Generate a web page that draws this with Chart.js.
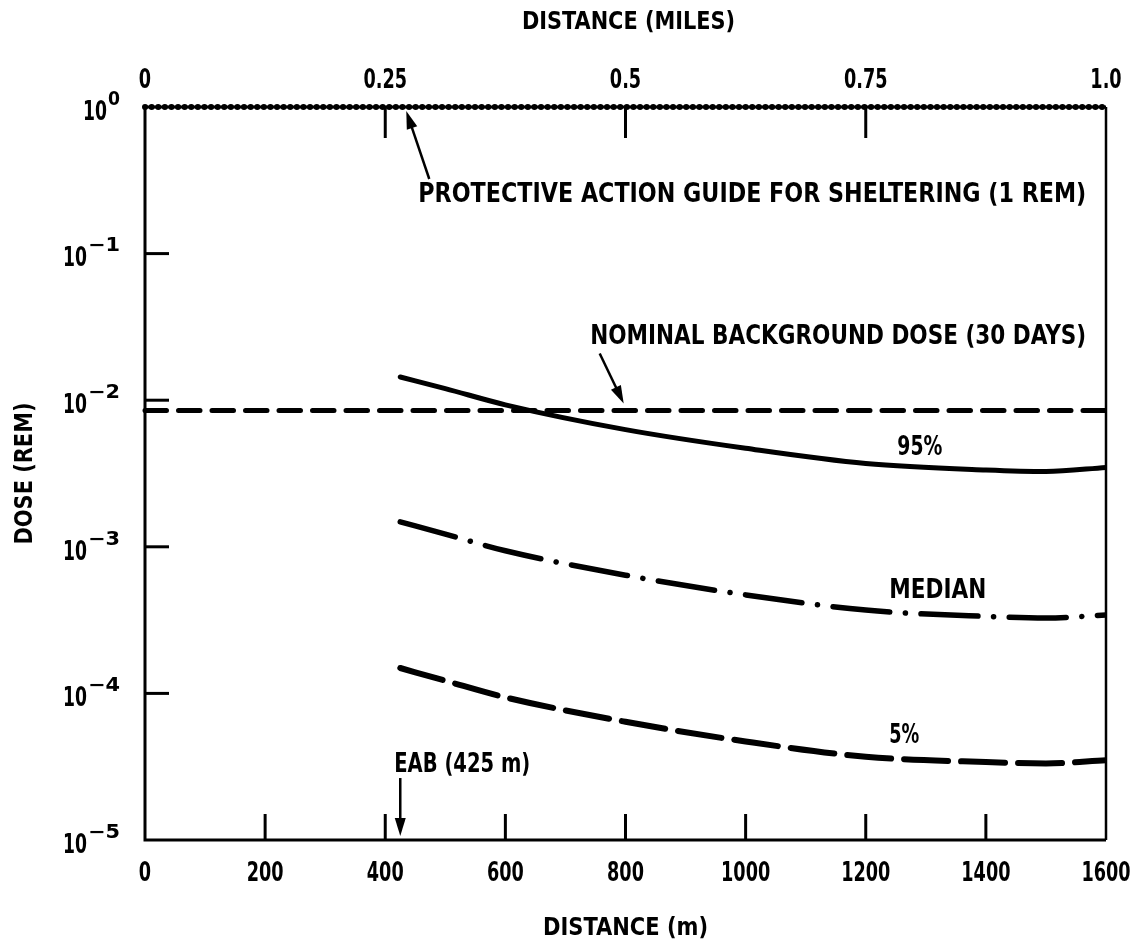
<!DOCTYPE html>
<html>
<head>
<meta charset="utf-8">
<script src="https://cdn.jsdelivr.net/npm/chart.js@4.4.1/dist/chart.umd.min.js"></script>
<style>
  html, body { margin: 0; padding: 0; background: #fff; }
  #wrap { width: 1136px; height: 941px; position: relative; }
</style>
</head>
<body>
<div id="wrap"><canvas id="doseChart"></canvas></div>
<script>
// distance from release point (m) where the dose curves are read
const distanceM = [425, 500, 600, 800, 1000, 1200, 1400, 1500, 1600];
// dose (rem) for each percentile
const dose95 = [0.0144, 0.0120, 0.0093, 0.0063, 0.0047, 0.0037, 0.00334, 0.00326, 0.00348];
const doseMedian = [0.00148, 0.00122, 0.00094, 0.00064, 0.00047, 0.00037, 0.000335, 0.000327, 0.000343];
const dose5 = [0.000149, 0.000122, 0.000094, 0.000064, 0.000047, 0.000037, 0.000034, 0.0000333, 0.000035];
// reference levels
const backgroundDose = 0.0085;
const shelterGuide = 1;
const eabDistance = 425;
// axes
const meterTicks = [0, 200, 400, 600, 800, 1000, 1200, 1400, 1600];
const mileTicks = [0, 0.25, 0.5, 0.75, 1];
const mileLabels = ['0', '0.25', '0.5', '0.75', '1.0'];
const doseExponents = [0, -1, -2, -3, -4, -5];

const FONT = '"Liberation Sans Narrow", "DejaVu Sans Condensed", "Liberation Sans", sans-serif';
const xMin = meterTicks[0];
const xMax = meterTicks[meterTicks.length - 1];

// draws bold text with its visual centre at y, squeezed to a width
function drawText(ctx, text, x, y, size, width, align, digitW) {
    ctx.font = `bold ${size}px ${FONT}`;
    const natural = ctx.measureText(text).width;
    let sx = 1;
    if (width) sx = width / natural;
    else if (digitW) sx = digitW / ctx.measureText('0').width;
    ctx.save();
    ctx.translate(x, y + size * 0.36);
    ctx.scale(sx, 1);
    ctx.textAlign = align;
    ctx.textBaseline = 'alphabetic';
    ctx.fillText(text, 0, 0);
    ctx.restore();
}

function arrow(ctx, x1, y1, x2, y2) {
    const ang = Math.atan2(y2 - y1, x2 - x1);
    const len = 18, half = 5.5;
    ctx.beginPath();
    ctx.moveTo(x1, y1);
    ctx.lineTo(x2 - Math.cos(ang) * len * 0.8, y2 - Math.sin(ang) * len * 0.8);
    ctx.stroke();
    ctx.beginPath();
    ctx.moveTo(x2, y2);
    ctx.lineTo(x2 - Math.cos(ang) * len - Math.sin(ang) * half, y2 - Math.sin(ang) * len + Math.cos(ang) * half);
    ctx.lineTo(x2 - Math.cos(ang) * len + Math.sin(ang) * half, y2 - Math.sin(ang) * len - Math.cos(ang) * half);
    ctx.closePath();
    ctx.fill();
}

const framePlugin = {
    id: 'frame',
    afterDatasetsDraw(chart) {
        const { ctx, chartArea: a } = chart;
        const { x, y, x2 } = chart.scales;
        ctx.save();
        ctx.strokeStyle = '#000';
        ctx.fillStyle = '#000';

        // frame
        ctx.lineWidth = 3;
        ctx.beginPath();
        ctx.moveTo(a.left, a.top);
        ctx.lineTo(a.left, a.bottom);
        ctx.lineTo(a.right, a.bottom);
        ctx.stroke();
        ctx.lineWidth = 2.5;
        ctx.beginPath();
        ctx.moveTo(a.right, a.bottom);
        ctx.lineTo(a.right, a.top);
        ctx.stroke();
        ctx.lineWidth = 3;
        ctx.beginPath();
        ctx.moveTo(a.left, a.top);
        ctx.lineTo(a.right, a.top);
        ctx.stroke();

        // inward ticks
        ctx.lineWidth = 3;
        meterTicks.slice(1, -1).forEach(m => {
            const px = x.getPixelForValue(m);
            ctx.beginPath(); ctx.moveTo(px, a.bottom); ctx.lineTo(px, a.bottom - 26); ctx.stroke();
        });
        mileTicks.slice(1, -1).forEach(mi => {
            const px = x2.getPixelForValue(mi);
            ctx.beginPath(); ctx.moveTo(px, a.top); ctx.lineTo(px, a.top + 31); ctx.stroke();
        });
        doseExponents.slice(1, -1).forEach(e => {
            const py = y.getPixelForValue(Math.pow(10, e));
            ctx.beginPath(); ctx.moveTo(a.left, py); ctx.lineTo(a.left + 24, py); ctx.stroke();
        });

        // tick labels
        meterTicks.forEach(m => {
            drawText(ctx, String(m), x.getPixelForValue(m), a.bottom + 31, 27, null, 'center', 12.3);
        });
        mileTicks.forEach((mi, i) => {
            drawText(ctx, mileLabels[i], x2.getPixelForValue(mi), a.top - 29, 27, null, 'center', 12.3);
        });
        doseExponents.forEach(e => {
            const py = y.getPixelForValue(Math.pow(10, e));
            const right = a.left - 25;
            const expText = e === 0 ? '0' : '\u2212' + Math.abs(e);
            const expW = e === 0 ? 12 : 32;
            drawText(ctx, expText, right, py - 9, 19, expW, 'right');
            drawText(ctx, '10', right - expW - 1, py + 3, 27, 24, 'right');
        });

        // axis titles
        const midX = (a.left + a.right) / 2;
        drawText(ctx, 'DISTANCE (MILES)', midX + 3, a.top - 87, 24, 213, 'center');
        drawText(ctx, 'DISTANCE (m)', midX, a.bottom + 86, 24, 165, 'center');
        ctx.save();
        ctx.translate(a.left - 122, (a.top + a.bottom) / 2);
        ctx.rotate(-Math.PI / 2);
        drawText(ctx, 'DOSE (REM)', 0, 0, 24, 142, 'center');
        ctx.restore();

        // annotations
        drawText(ctx, 'PROTECTIVE ACTION GUIDE FOR SHELTERING (1 REM)', x.getPixelForValue(455), y.getPixelForValue(0.26), 27, 668, 'left');
        drawText(ctx, 'NOMINAL BACKGROUND DOSE (30 DAYS)', x.getPixelForValue(1567), y.getPixelForValue(0.0283), 27, 496, 'right');
        drawText(ctx, '95%', x.getPixelForValue(1290), y.getPixelForValue(0.00487), 26, 45, 'center');
        drawText(ctx, 'MEDIAN', x.getPixelForValue(1320), y.getPixelForValue(0.000515), 26, 97, 'center');
        drawText(ctx, '5%', x.getPixelForValue(1264), y.getPixelForValue(0.0000528), 26, 30, 'center');
        const eabX = x.getPixelForValue(eabDistance);
        const eabY = y.getPixelForValue(0.0000335);
        drawText(ctx, 'EAB (425 m)', eabX - 6, eabY, 26, 136, 'left');

        // arrows
        ctx.lineWidth = 2.5;
        const pagX = x.getPixelForValue(435), pagY = y.getPixelForValue(shelterGuide) + 4;
        arrow(ctx, pagX + 23, pagY + 68, pagX, pagY);
        const bgX = x.getPixelForValue(797), bgY = y.getPixelForValue(backgroundDose) - 7;
        arrow(ctx, bgX - 24, bgY - 50, bgX, bgY);
        arrow(ctx, eabX, eabY + 15, eabX, a.bottom - 4);

        ctx.restore();
    }
};

const line = (vals) => distanceM.map((d, i) => ({ x: d, y: vals[i] }));

new Chart(document.getElementById('doseChart'), {
    type: 'line',
    data: {
        datasets: [
            {
                label: 'Protective action guide (1 rem)',
                data: [{ x: xMin, y: shelterGuide }, { x: xMax, y: shelterGuide }],
                borderColor: '#000',
                borderWidth: 6,
                borderDash: [0.1, 6.5],
                borderCapStyle: 'round',
                clip: false
            },
            {
                label: 'Nominal background dose (30 days)',
                data: [{ x: xMin, y: backgroundDose }, { x: xMax, y: backgroundDose }],
                borderColor: '#000',
                borderWidth: 5,
                borderDash: [21.5, 12],
                borderCapStyle: 'round',
                clip: false
            },
            {
                label: '95%',
                data: line(dose95),
                borderColor: '#000',
                borderWidth: 5,
                borderCapStyle: 'round',
                cubicInterpolationMode: 'monotone'
            },
            {
                label: 'Median',
                data: line(doseMedian),
                borderColor: '#000',
                borderWidth: 5.5,
                borderDash: [57, 15.6, 0.1, 15.6],
                borderCapStyle: 'round',
                cubicInterpolationMode: 'monotone'
            },
            {
                label: '5%',
                data: line(dose5),
                borderColor: '#000',
                borderWidth: 6,
                borderDash: [44, 13],
                borderCapStyle: 'round',
                cubicInterpolationMode: 'monotone'
            }
        ]
    },
    options: {
        responsive: true,
        maintainAspectRatio: false,
        animation: false,
        layout: { padding: { left: 145, top: 107, right: 30, bottom: 101 } },
        elements: { point: { radius: 0 } },
        plugins: {
            legend: { display: false },
            tooltip: { enabled: false }
        },
        scales: {
            x: { type: 'linear', min: xMin, max: xMax, display: false },
            x2: { type: 'linear', axis: 'x', position: 'top', min: mileTicks[0], max: mileTicks[mileTicks.length - 1], display: false },
            y: { type: 'logarithmic', min: Math.pow(10, doseExponents[doseExponents.length - 1]), max: Math.pow(10, doseExponents[0]), display: false }
        }
    },
    plugins: [framePlugin]
});
</script>
</body>
</html>
